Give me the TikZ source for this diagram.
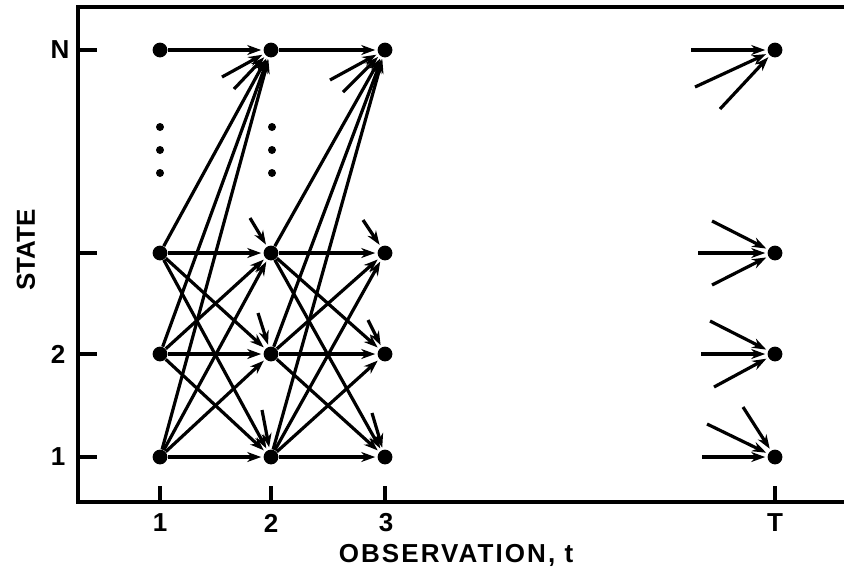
\documentclass[tikz,border=0pt]{standalone}
\usepackage{fontspec}
\setmainfont{Liberation Sans}
\usepackage{tikz}
\usetikzlibrary{arrows.meta}

\tikzset{
    state/.style = {circle, fill, inner sep=0pt, minimum size=7.4pt},
    link/.style = {->, >={Stealth[length=7pt,width=5pt]}, line width=1.6pt, shorten >=1pt},
    axis/.style = {line width=1.7pt},
    lab/.style = {font=\bfseries\fontsize{13}{15}\selectfont, inner sep=0pt}
}

\begin{document}
\begin{tikzpicture}[x=0.5pt, y=-0.5pt]
        \useasboundingbox (0,0) rectangle (844,575);

        %枠と目盛り
        \draw[axis] (844,7) -- (78,7) -- (78,502) -- (844,502);
        \foreach \r/\y in {1/457,2/354,3/253,N/50}
            \draw[axis] (78,\y) -- (97,\y);
        \foreach \c/\x in {1/160,2/271,3/385,T/775}
            \draw[axis] (\x,502) -- (\x,486);

        %軸のラベル
        \node[lab] (yN) at (60,50) {N};
        \node[lab] (y2) at (58,354) {2};
        \node[lab] (y1) at (58,457) {1};
        \node[lab, rotate=90] (ytitle) at (26,250) {STATE};
        \node[lab] (x1) at (160,523) {1};
        \node[lab] (x2) at (271,523) {2};
        \node[lab] (x3) at (386,523) {3};
        \node[lab] (xT) at (775,523) {T};
        \node[lab, font=\bfseries\fontsize{13}{15}\addfontfeatures{LetterSpace=8}\selectfont]
            (xtitle) at (456,555) {OBSERVATION, t};

        %状態の点
        \foreach \c/\x in {1/160,2/271,3/385,T/775}
            \foreach \r/\y in {1/457,2/354,3/253,N/50}
                \node[state] (s\c-\r) at (\x,\y) {};

        %省略の点
        \foreach \x in {160,272}
            \foreach \y in {127,150,173}
                \fill (\x,\y) circle (4);

        %遷移
        \foreach \a/\b in {1/2,2/3} {
            \foreach \i in {1,2,3}
                \foreach \j in {1,2,3,N}
                    \draw[link] (s\a-\i) -- (s\b-\j);
            \draw[link] (s\a-N) -- (s\b-N);
        }

        %途中から来る矢印
        \coordinate (u2Na) at (222,77);
        \coordinate (u2Nb) at (234,89);
        \coordinate (u23) at (250,218);
        \coordinate (u22) at (258,313);
        \coordinate (u21) at (262,410);
        \coordinate (u3Na) at (330,80);
        \coordinate (u3Nb) at (343,92);
        \coordinate (u33) at (363,220);
        \coordinate (u32) at (368,320);
        \coordinate (u31) at (372,413);
        \coordinate (uTNa) at (691,50);
        \coordinate (uTNb) at (695,87);
        \coordinate (uTNc) at (720,109);
        \coordinate (uT3a) at (712,221);
        \coordinate (uT3b) at (698,253);
        \coordinate (uT3c) at (712,285);
        \coordinate (uT2a) at (710,321);
        \coordinate (uT2b) at (701,354);
        \coordinate (uT2c) at (714,387);
        \coordinate (uT1a) at (707,424);
        \coordinate (uT1b) at (743,407);
        \coordinate (uT1c) at (702,457);
        \foreach \u/\t in {u2Na/2-N, u2Nb/2-N, u23/2-3, u22/2-2, u21/2-1,
                u3Na/3-N, u3Nb/3-N, u33/3-3, u32/3-2, u31/3-1,
                uTNa/T-N, uTNb/T-N, uTNc/T-N, uT3a/T-3, uT3b/T-3, uT3c/T-3,
                uT2a/T-2, uT2b/T-2, uT2c/T-2, uT1a/T-1, uT1b/T-1, uT1c/T-1}
            \draw[link] (\u) -- (s\t);
    \end{tikzpicture}
\end{document}
